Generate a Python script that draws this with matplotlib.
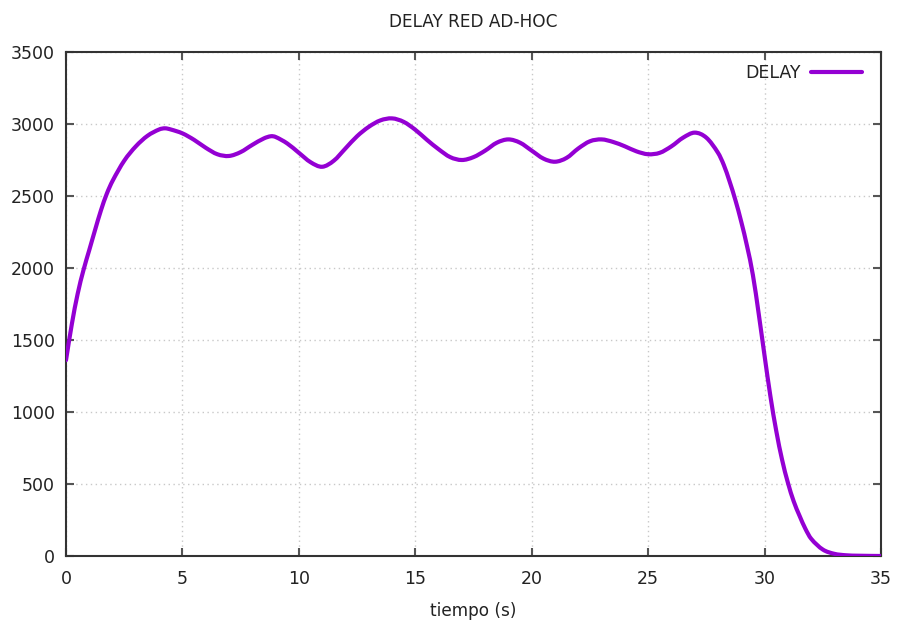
import matplotlib
matplotlib.use("Agg")
import matplotlib.pyplot as plt
import numpy as np
from matplotlib.path import Path
from matplotlib.patches import PathPatch
from matplotlib.lines import Line2D

# Tiempo de simulación (s) y retardo medido en la red ad-hoc
tiempo = [0.0, 0.25, 0.5, 0.75, 1.0, 1.25, 1.5, 1.75, 2.0, 2.5, 3.0, 3.5, 4.0, 4.25,
          4.5, 5.0, 5.5, 6.0, 6.5, 7.0, 7.5, 8.0, 8.5, 8.8, 9.0, 9.5, 10.0, 10.5,
          11.0, 11.5, 12.0, 12.5, 13.0, 13.5, 14.0, 14.5, 15.0, 15.5, 16.0, 16.5,
          17.0, 17.5, 18.0, 18.5, 19.0, 19.5, 20.0, 20.5, 21.0, 21.5, 22.0, 22.5,
          23.0, 23.5, 24.0, 24.5, 25.0, 25.5, 26.0, 26.5, 27.0, 27.5, 28.0, 28.25,
          28.5, 28.75, 29.0, 29.25, 29.5, 29.75, 30.0, 30.25, 30.5, 30.75, 31.0,
          31.25, 31.5, 31.75, 32.0, 32.5, 33.0, 33.5, 34.0, 35.0]
delay = [1360, 1610, 1820, 1985, 2125, 2265, 2400, 2515, 2605, 2745, 2845, 2918,
         2962, 2970, 2962, 2935, 2890, 2835, 2790, 2778, 2805, 2855, 2900, 2915,
         2910, 2865, 2800, 2735, 2703, 2745, 2830, 2915, 2980, 3025, 3039, 3015,
         2960, 2890, 2825, 2770, 2750, 2770, 2815, 2870, 2893, 2870, 2815, 2760,
         2738, 2765, 2830, 2880, 2893, 2875, 2845, 2810, 2790, 2800, 2845, 2905,
         2940, 2905, 2800, 2715, 2600, 2470, 2320, 2150, 1950, 1680, 1390, 1110,
         870, 670, 510, 380, 280, 190, 120, 45, 15, 5, 2, 0]

x_ticks = [0, 5, 10, 15, 20, 25, 30, 35]
y_ticks = [0, 500, 1000, 1500, 2000, 2500, 3000, 3500]

LINE_COLOR = "#9400D3"
TEXT_COLOR = "#222222"


def smooth_path(xs, ys):
    """Cubic Hermite (Bezier) path through every sample, with slopes from
    neighbouring samples so that uneven time steps stay smooth."""
    x = np.asarray(xs, float)
    y = np.asarray(ys, float)
    n = len(x)
    slope = np.empty(n)
    slope[0] = (y[1] - y[0]) / (x[1] - x[0])
    slope[-1] = (y[-1] - y[-2]) / (x[-1] - x[-2])
    slope[1:-1] = (y[2:] - y[:-2]) / (x[2:] - x[:-2])
    verts = [(x[0], y[0])]
    codes = [Path.MOVETO]
    for i in range(n - 1):
        h = x[i + 1] - x[i]
        c1 = (x[i] + h / 3, y[i] + slope[i] * h / 3)
        c2 = (x[i + 1] - h / 3, y[i + 1] - slope[i + 1] * h / 3)
        verts += [c1, c2, (x[i + 1], y[i + 1])]
        codes += [Path.CURVE4] * 3
    return Path(verts, codes)


plt.rcParams["font.family"] = ["DejaVu Sans"]

fig = plt.figure(figsize=(8.99, 6.21), dpi=100)
ax = fig.add_axes([66 / 899, 65 / 621, 815 / 899, 504 / 621])

curve = PathPatch(smooth_path(tiempo, delay), facecolor="none",
                  edgecolor=LINE_COLOR, lw=3.0, joinstyle="round",
                  capstyle="round", zorder=3)
ax.add_patch(curve)

ax.set_xlim(0, 35)
ax.set_ylim(0, 3500)
ax.set_xticks(x_ticks)
ax.set_yticks(y_ticks)
ax.grid(True, color="#c8c8c8", ls=(0, (1, 2.5)), lw=1.0)

for s in ax.spines.values():
    s.set_linewidth(1.5)
    s.set_color("#333333")
ax.tick_params(direction="in", length=6, width=1.5, color="#555555",
               top=True, right=True, labelsize=12.5, pad=10,
               labelcolor=TEXT_COLOR)
ax.tick_params(axis="y", pad=8)

ax.set_title("DELAY RED AD-HOC", fontsize=12.2, pad=18, color=TEXT_COLOR)
ax.set_xlabel("tiempo (s)", fontsize=12.2, labelpad=10, color=TEXT_COLOR)

handle = Line2D([], [], color=LINE_COLOR, lw=3.0, solid_capstyle="round")
leg = ax.legend([handle], ["DELAY"], loc="upper right", frameon=False,
                markerfirst=False, handlelength=2.9, handletextpad=0.6,
                fontsize=12.5, borderaxespad=0.55,
                bbox_to_anchor=(1 - 3 / 815, 1 + 4 / 504))
for t in leg.get_texts():
    t.set_color(TEXT_COLOR)

fig.savefig("out.png", dpi=100)
